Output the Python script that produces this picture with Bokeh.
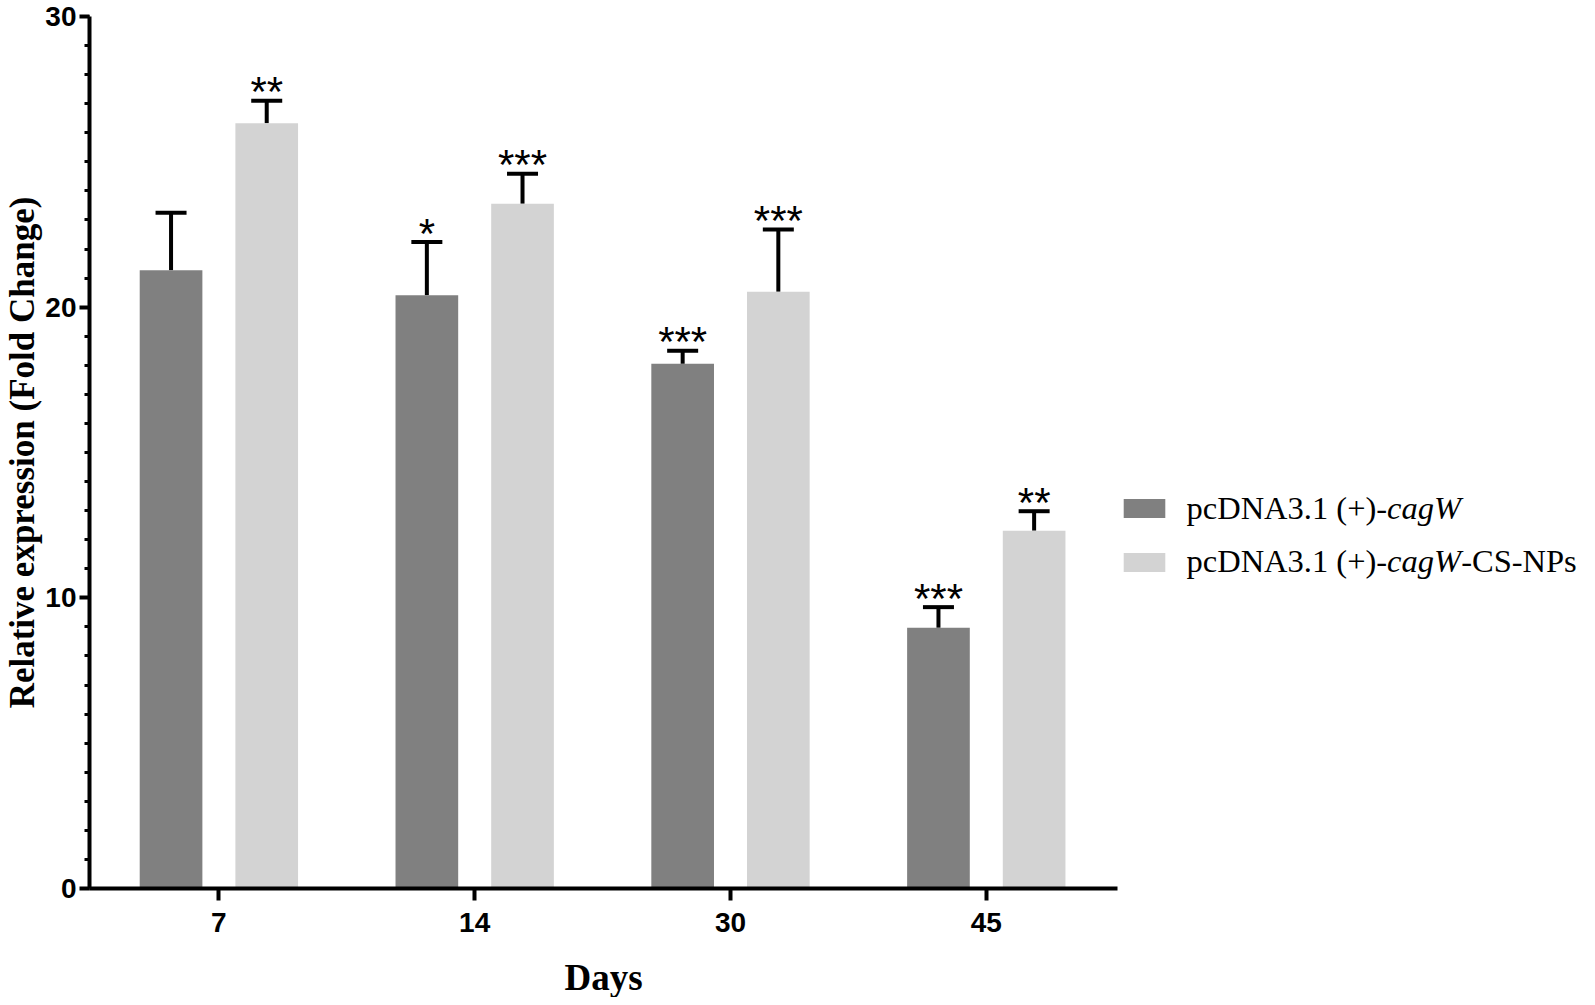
from bokeh.plotting import figure
from bokeh.layouts import column
from bokeh.models import (Range1d, FixedTicker, Whisker, TeeHead, ColumnDataSource,
                          Label, Legend, LegendItem)
from bokeh.core.properties import value
from bokeh.embed import file_html
from bokeh.resources import INLINE

# ---------------- data ----------------
days = ["7", "14", "30", "45"]
plain = [21.27, 20.41, 18.05, 8.97]
plain_err = [1.98, 1.83, 0.45, 0.71]
plain_sig = ["", "*", "***", "***"]
nps = [26.33, 23.56, 20.53, 12.31]
nps_err = [0.77, 1.03, 2.14, 0.67]
nps_sig = ["**", "***", "***", "**"]
legend_prefix = ["pcDNA3.1 (+)-", "pcDNA3.1 (+)-"]
legend_italic = ["cagW", "cagW"]
legend_suffix = ["", "-CS-NPs"]
y_ticks = [0, 10, 20, 30]
x_title = "Days"
y_title = "Relative expression (Fold Change)"

DARK = "#808080"
LIGHT = "#d3d3d3"
OFF = 0.187
BW = 0.245
X0, X_AXIS_END, X1 = -0.5058, 3.5136, 5.319

idx = list(range(len(days)))

p = figure(width=1579, height=950,
           x_range=Range1d(X0, X1), y_range=Range1d(0, 30),
           output_backend="svg", toolbar_location=None,
           min_border_left=82, min_border_right=0,
           min_border_top=16, min_border_bottom=62)
p.xgrid.visible = False
p.ygrid.visible = False
p.outline_line_color = None
p.background_fill_color = "white"

src_a = ColumnDataSource(dict(x=[i - OFF for i in idx], top=plain,
                              up=[v + e for v, e in zip(plain, plain_err)],
                              sig=plain_sig))
src_b = ColumnDataSource(dict(x=[i + OFF for i in idx], top=nps,
                              up=[v + e for v, e in zip(nps, nps_err)],
                              sig=nps_sig))

ra = p.vbar(x="x", top="top", bottom=0, width=BW, source=src_a,
            fill_color=DARK, line_color=None)
rb = p.vbar(x="x", top="top", bottom=0, width=BW, source=src_b,
            fill_color=LIGHT, line_color=None)

for src in (src_a, src_b):
    w = Whisker(base="x", lower="top", upper="up", source=src, dimension="height",
                line_width=4, line_color="black", line_cap="butt",
                upper_head=TeeHead(size=31, line_width=4, line_color="black"),
                lower_head=None)
    p.add_layout(w)
    p.text(x="x", y="up", text="sig", source=src,
           text_font=value("Liberation Sans"), text_font_size="42px",
           text_align="center", text_baseline="alphabetic", y_offset=-9,
           text_color="black")

# ---------------- axes ----------------
xa = p.xaxis[0]
xa.ticker = FixedTicker(ticks=idx, minor_ticks=[])
xa.bounds = (X0, X_AXIS_END)
xa.major_label_overrides = {i: d for i, d in zip(idx, days)}
xa.major_label_text_font = "Liberation Sans"
xa.major_label_text_font_style = "bold"
xa.major_label_text_font_size = "28px"
xa.major_label_text_color = "black"
xa.major_label_standoff = 12
xa.major_tick_out = 12
xa.major_tick_in = 0
xa.axis_line_width = 4
xa.major_tick_line_width = 4
xa.axis_line_color = "black"
xa.major_tick_line_color = "black"

ya = p.yaxis[0]
ya.ticker = FixedTicker(ticks=y_ticks, minor_ticks=list(range(0, 31)))
ya.axis_label = y_title
ya.axis_label_text_font = "Liberation Serif"
ya.axis_label_text_font_style = "bold"
ya.axis_label_text_font_size = "35px"
ya.axis_label_text_color = "black"
ya.axis_label_standoff = 0
ya.major_label_text_font = "Liberation Sans"
ya.major_label_text_font_style = "bold"
ya.major_label_text_font_size = "28px"
ya.major_label_text_color = "black"
ya.major_label_standoff = 3
ya.major_tick_out = 10
ya.major_tick_in = 0
ya.minor_tick_out = 5
ya.minor_tick_in = 0
ya.axis_line_width = 4
ya.major_tick_line_width = 4
ya.minor_tick_line_width = 3
ya.axis_line_color = "black"

# ---------------- legend ----------------
leg = Legend(items=[LegendItem(label=" ", renderers=[ra]),
                    LegendItem(label=" ", renderers=[rb])],
             location=(1029, 314), orientation="vertical",
             glyph_width=52, glyph_height=24, label_height=24,
             label_width=0, label_standoff=0, spacing=30,
             padding=0, margin=0, border_line_color=None,
             background_fill_alpha=0, label_text_font_size="1px")
p.add_layout(leg)

FS = 32.5
base_x = 1097
base_y = [381, 328]
for k in range(2):
    pre_w = 6.173 * FS
    ita_w = 2.277 * FS
    p.add_layout(Label(x=base_x, y=base_y[k], x_units="screen", y_units="screen",
                       text=legend_prefix[k], text_font="Liberation Serif",
                       text_font_size=f"{FS}px", text_baseline="alphabetic",
                       text_color="black"))
    p.add_layout(Label(x=base_x + pre_w, y=base_y[k], x_units="screen", y_units="screen",
                       text=legend_italic[k], text_font="Liberation Serif",
                       text_font_style="italic", text_color="black",
                       text_font_size=f"{FS}px", text_baseline="alphabetic"))
    if legend_suffix[k]:
        p.add_layout(Label(x=base_x + pre_w + ita_w, y=base_y[k], x_units="screen",
                           y_units="screen", text=legend_suffix[k],
                           text_font="Liberation Serif", text_color="black",
                           text_font_size=f"{FS}px", text_baseline="alphabetic"))

# ---------------- x-axis title strip ----------------
p2 = figure(width=1579, height=47, x_range=p.x_range, y_range=Range1d(0, 1),
            output_backend="svg", toolbar_location=None,
            x_axis_type=None, y_axis_type=None,
            min_border_left=82, min_border_right=0,
            min_border_top=0, min_border_bottom=0)
p2.xgrid.visible = False
p2.ygrid.visible = False
p2.outline_line_color = None
p2.add_layout(Label(x=(X0 + X_AXIS_END) / 2, y=20, x_units="data", y_units="screen",
                    text=x_title, text_font="Liberation Serif", text_font_style="bold",
                    text_font_size="37px", text_align="center",
                    text_baseline="alphabetic", text_color="black"))

layout = column(p, p2, spacing=0)
open("out.html", "w").write(file_html(layout, INLINE))
